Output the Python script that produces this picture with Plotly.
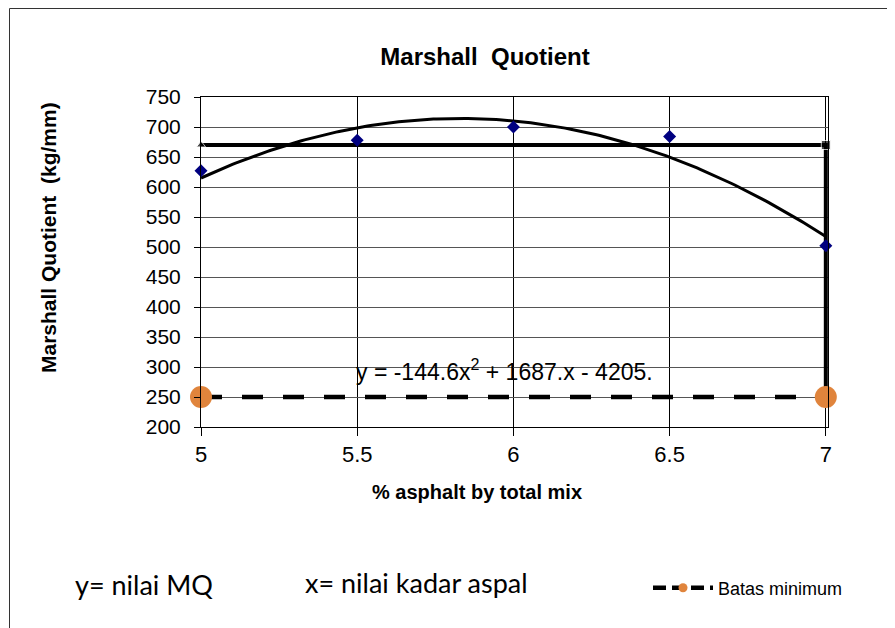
import numpy as np
import plotly.graph_objects as go

# ---- data ----
asphalt = [5, 5.5, 6, 6.5, 7]
mq_values = [627, 678, 700, 684, 502]

opt_line_x = [5, 7, 7]
opt_line_y = [670, 670, 240]

batas_x = [5, 7]
batas_y = [250, 250]

y_ticks = [200, 250, 300, 350, 400, 450, 500, 550, 600, 650, 700, 750]
x_ticks = [5, 5.5, 6, 6.5, 7]

equation_text = "y = -144.6x<sup>2</sup> + 1687.x - 4205."
note_y = "y= nilai MQ"
note_x = "x= nilai kadar aspal"

# polynomial trendline (order 2) fitted to the data
coef = np.polyfit(asphalt, mq_values, 2)
xs = np.linspace(min(asphalt), max(asphalt), 200)
ys = np.polyval(coef, xs)

# page body adds an 8px offset; positions below are screen pixels
OFF = 8
W, H = 895, 628
SL, SR, ST, SB = 201, 828, 97, 427          # plot area on screen
L, T = SL - OFF, ST - OFF
R = W - (SR - OFF)
B = H - (SB - OFF)
pw, ph = W - L - R, H - T - B


def px(xs_):
    return (xs_ - OFF - L) / pw


def py(ys_):
    return (H - B - (ys_ - OFF)) / ph


AX = "Liberation Sans, Arial, sans-serif"
CAL = "Lato, Open Sans, sans-serif"

fig = go.Figure()

# trendline
fig.add_trace(go.Scatter(x=xs, y=ys, mode="lines",
                         line=dict(color="black", width=3),
                         showlegend=False, hoverinfo="skip"))

# horizontal / vertical reference line
fig.add_trace(go.Scatter(x=opt_line_x, y=opt_line_y, mode="lines+markers",
                         line=dict(color="black", width=4),
                         marker=dict(symbol=["triangle-up", "square", "square"],
                                     size=[8, 9, 9], color="black"),
                         cliponaxis=False, showlegend=False))

# data points
fig.add_trace(go.Scatter(x=asphalt, y=mq_values, mode="markers",
                         marker=dict(symbol="diamond", size=10, color="#000080"),
                         cliponaxis=False, showlegend=False))

# batas minimum
fig.add_trace(go.Scatter(x=batas_x, y=batas_y, mode="lines+markers",
                         line=dict(color="black", width=4.5, dash="21px,20px"),
                         marker=dict(symbol="circle", size=22, color="#E0843C"),
                         cliponaxis=False, showlegend=False))

# legend entry
fig.add_trace(go.Scatter(x=[None], y=[None], mode="lines+markers",
                         name="Batas minimum",
                         line=dict(color="black", width=4.5, dash="13px,6px"),
                         marker=dict(symbol="circle", size=9, color="#E0843C")))

fig.update_layout(
    width=W, height=H,
    margin=dict(l=L, r=R, t=T, b=B),
    paper_bgcolor="white", plot_bgcolor="white",
    font=dict(family=AX, color="black"),
    title=dict(text="<b>Marshall  Quotient</b>", x=px(485), xref="paper",
               xanchor="center", y=1 - (57 - OFF) / H, yref="container",
               yanchor="middle", font=dict(size=24, family=AX)),
    xaxis=dict(range=[5, 7.007], tickvals=x_ticks, ticks="outside", ticklen=8,
               tickcolor="black", showgrid=True, gridcolor="black",
               gridwidth=1, showline=True, linecolor="black", mirror=True,
               zeroline=False, tickfont=dict(size=22)),
    yaxis=dict(range=[200, 750], tickvals=y_ticks, ticks="outside", ticklen=6,
               tickcolor="black", showgrid=True, gridcolor="#555555",
               gridwidth=1, showline=True, linecolor="black", mirror=True,
               zeroline=False, tickfont=dict(size=21), ticklabelstandoff=9),
    legend=dict(x=px(648), y=py(588), xanchor="left", yanchor="middle",
                font=dict(size=18, family=AX), bgcolor="rgba(0,0,0,0)",
                itemwidth=60),
    shapes=[dict(type="rect", xref="paper", yref="paper",
                 x0=px(9.5), x1=px(990), y0=py(760), y1=py(8.5),
                 line=dict(color="#333333", width=1), layer="below")],
    annotations=[
        # axis titles
        dict(text="<b>% asphalt by total mix</b>", x=px(477), y=py(492),
             xref="paper", yref="paper", xanchor="center", yanchor="middle",
             showarrow=False, font=dict(size=20, family=AX)),
        dict(text="<b>Marshall Quotient  (kg/mm)</b>", x=px(48), y=py(238),
             xref="paper", yref="paper", xanchor="center", yanchor="middle",
             textangle=-90, showarrow=False, font=dict(size=21, family=AX)),
        # trendline equation
        dict(text=equation_text, x=5.97, y=295, xref="x", yref="y",
             showarrow=False, font=dict(size=23, family=AX)),
        # notes
        dict(text=note_y, x=px(73), y=py(584), xref="paper", yref="paper",
             xanchor="left", yanchor="middle", showarrow=False,
             font=dict(size=27, family=CAL)),
        dict(text=note_x, x=px(303), y=py(582), xref="paper", yref="paper",
             xanchor="left", yanchor="middle", showarrow=False,
             font=dict(size=27, family=CAL)),
    ],
)

fig.write_html("out.html")
